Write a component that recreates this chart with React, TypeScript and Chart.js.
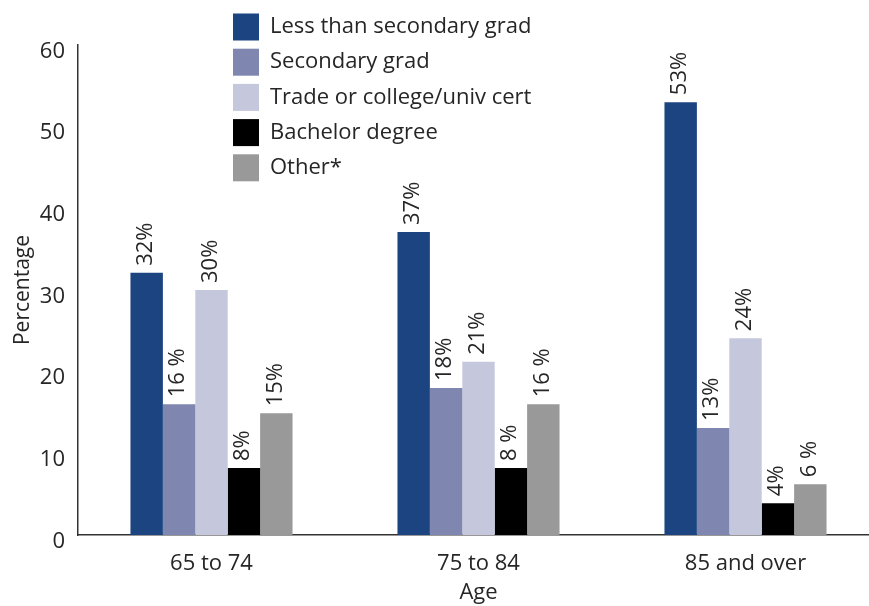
import React, { useEffect, useRef } from "react";
import { Chart, registerables } from "chart.js";

Chart.register(...registerables);

const categories = ["65 to 74", "75 to 84", "85 and over"];
const seriesNames = [
  "Less than secondary grad",
  "Secondary grad",
  "Trade or college/univ cert",
  "Bachelor degree",
  "Other*",
];
const lessThanSecondary = [32.1, 37.1, 53.0];
const secondaryGrad = [16.0, 18.0, 13.1];
const tradeCert = [30.0, 21.2, 24.1];
const bachelor = [8.2, 8.2, 3.9];
const other = [14.9, 16.0, 6.2];

const lessThanSecondaryLabels = ["32%", "37%", "53%"];
const secondaryGradLabels = ["16 %", "18%", "13%"];
const tradeCertLabels = ["30%", "21%", "24%"];
const bachelorLabels = ["8%", "8 %", "4%"];
const otherLabels = ["15%", "16 %", "6 %"];

const yMin = 0;
const yMax = 60;
const yStep = 10;

const colors = ["#1b4480", "#7f86af", "#c5c8dd", "#000000", "#999999"];
const textColor = "#262626";
const FONT = "'Open Sans', sans-serif";

const seriesValues = [lessThanSecondary, secondaryGrad, tradeCert, bachelor, other];
const seriesLabels = [
  lessThanSecondaryLabels,
  secondaryGradLabels,
  tradeCertLabels,
  bachelorLabels,
  otherLabels,
];

const barLabelPlugin = {
  id: "barLabelPlugin",
  afterDatasetsDraw(chart: any) {
    const ctx = chart.ctx;
    chart.data.datasets.forEach((ds: any, i: number) => {
      const meta = chart.getDatasetMeta(i);
      meta.data.forEach((bar: any, j: number) => {
        const text = seriesLabels[i][j];
        ctx.save();
        ctx.translate(bar.x - 1, bar.y - 7);
        ctx.rotate(-Math.PI / 2);
        ctx.font = `22px ${FONT}`;
        ctx.fillStyle = textColor;
        ctx.textAlign = "left";
        ctx.textBaseline = "middle";
        ctx.fillText(text, 0, 0);
        ctx.restore();
      });
    });
  },
};

const legendPlugin = {
  id: "columnLegend",
  afterDraw(chart: any) {
    const ctx = chart.ctx;
    const boxX = 233;
    const boxW = 26;
    const boxH = 27;
    const firstY = 27;
    const rowGap = 35.2;
    const textX = 270;
    ctx.save();
    chart.data.datasets.forEach((ds: any, i: number) => {
      const cy = firstY + i * rowGap;
      ctx.fillStyle = ds.backgroundColor;
      ctx.fillRect(boxX, cy - boxH / 2, boxW, boxH);
      ctx.font = `22px ${FONT}`;
      ctx.fillStyle = textColor;
      ctx.textAlign = "left";
      ctx.textBaseline = "middle";
      ctx.fillText(ds.label, textX, cy);
    });
    ctx.restore();
  },
};

export default function App() {
  const canvasRef = useRef<HTMLCanvasElement | null>(null);

  useEffect(() => {
    if (!canvasRef.current) return;
    const chart = new Chart(canvasRef.current, {
      type: "bar",
      data: {
        labels: categories,
        datasets: seriesNames.map((name, i) => ({
          label: name,
          data: seriesValues[i],
          backgroundColor: colors[i],
          borderWidth: 0,
          barPercentage: 1,
          categoryPercentage: 0.607,
        })),
      },
      options: {
        responsive: false,
        animation: false,
        devicePixelRatio: 1,
        layout: { padding: { top: 45, right: 1, bottom: 0, left: 0 } },
        plugins: {
          legend: { display: false },
          tooltip: { enabled: false },
        },
        scales: {
          x: {
            grid: { display: false, drawTicks: false, tickLength: 0 },
            border: { display: true, color: "#333333", width: 1.5 },
            ticks: {
              color: textColor,
              font: { family: FONT, size: 22 },
              padding: 16,
              maxRotation: 0,
            },
            title: {
              display: true,
              text: "Age",
              color: textColor,
              font: { family: FONT, size: 22 },
              padding: { top: 0, bottom: 0 },
            },
            afterFit(scale: any) {
              scale.height = 71;
            },
          },
          y: {
            min: yMin,
            max: yMax,
            grid: { display: false, drawTicks: false, tickLength: 0 },
            border: { display: true, color: "#333333", width: 1.5 },
            ticks: {
              stepSize: yStep,
              color: textColor,
              font: { family: FONT, size: 22 },
              padding: 13,
              labelOffset: 6.5,
            },
            title: {
              display: true,
              text: "Percentage",
              color: textColor,
              font: { family: FONT, size: 21 },
              padding: { top: 10, bottom: 0 },
            },
            afterFit(scale: any) {
              scale.width = 78;
            },
          },
        },
      },
      plugins: [barLabelPlugin, legendPlugin],
    });
    return () => chart.destroy();
  }, []);

  return (
    <div
      style={{
        position: "absolute",
        left: 0,
        top: 0,
        width: 869,
        height: 606,
        overflow: "hidden",
        background: "#ffffff",
      }}
    >
      <canvas ref={canvasRef} width={880} height={606} style={{ width: 880, height: 606, display: "block" }} />
    </div>
  );
}
